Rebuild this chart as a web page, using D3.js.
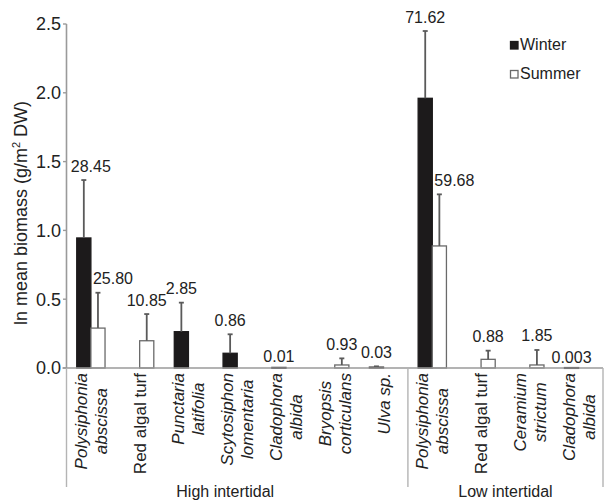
<!DOCTYPE html>
<html>
<head>
<meta charset="utf-8">
<script src="https://cdn.jsdelivr.net/npm/d3@7"></script>
<style>
  body { margin: 0; background: #fff; }
  svg { display: block; font-family: "Liberation Sans", Arial, Helvetica, sans-serif; }
</style>
</head>
<body>
<svg id="chart" width="605" height="503"></svg>
<script>
// ---- data ----
const categories = ["H1","H2","H3","H4","H5","H6","H7","L1","L2","L3","L4"];
const categoryLabels = [
  ["Polysiphonia","abscissa"],
  ["Red algal turf"],
  ["Punctaria","latifolia"],
  ["Scytosiphon","lomentaria"],
  ["Cladophora","albida"],
  ["Bryopsis","corticulans"],
  ["Ulva sp."],
  ["Polysiphonia","abscissa"],
  ["Red algal turf"],
  ["Ceramium","strictum"],
  ["Cladophora","albida"]
];
const italicLabel = [true,false,true,true,true,true,true,true,false,true,true];
const groups = ["High intertidal","Low intertidal"];
const groupOf = [0,0,0,0,0,0,0,1,1,1,1];
const seasons = ["Winter","Summer"];

// ln mean biomass (bar heights), null = no bar
const winterValues = [0.945, null, 0.264, 0.107, 0.004, null, 0.006, 1.96, null, null, 0.003];
const winterErrors = [0.421, null, 0.211, 0.138, 0, null, 0.006, 0.489, null, null, 0];
const winterLabels = ["28.45", null, "2.85", "0.86", "0.01", null, "0.03", "71.62", null, null, "0.003"];

const summerValues = [0.29, 0.198, null, null, null, 0.022, null, 0.887, 0.063, 0.022, null];
const summerErrors = [0.257, 0.194, null, null, null, 0.048, null, 0.375, 0.063, 0.109, null];
const summerLabels = ["25.80", "10.85", null, null, null, "0.93", null, "59.68", "0.88", "1.85", null];

const yTicks = [0, 0.5, 1.0, 1.5, 2.0, 2.5];

// ---- layout ----
const svg = d3.select("#chart");
const mLeft = 66.5, mRight = 603, mTop = 24, mBottom = 368;

const x = d3.scaleBand().domain(categories).range([mLeft, mRight]).padding(0);
const bw = x.bandwidth();
const barW = bw * 0.29;
const xs = d3.scaleBand().domain(seasons).range([bw/2 - barW, bw/2 + barW]).padding(0);
const y = d3.scaleLinear().domain([0, 2.5]).range([mBottom, mTop]);

const bars = [];
categories.forEach((c, i) => {
  if (winterValues[i] !== null) bars.push({c, i, s: "Winter", v: winterValues[i], e: winterErrors[i], lab: winterLabels[i]});
  if (summerValues[i] !== null) bars.push({c, i, s: "Summer", v: summerValues[i], e: summerErrors[i], lab: summerLabels[i]});
});

// bars
svg.append("g").selectAll("rect").data(bars).join("rect")
  .attr("x", d => x(d.c) + xs(d.s))
  .attr("y", d => y(d.v))
  .attr("width", xs.bandwidth())
  .attr("height", d => Math.max(0.8, y(0) - y(d.v)))
  .attr("fill", d => d.s === "Winter" ? "#1c1a1b" : "#ffffff")
  .attr("stroke", d => d.s === "Winter" ? "#1c1a1b" : "#6a6a6a")
  .attr("stroke-width", 1.3);

// error bars (upper only)
const eg = svg.append("g").attr("stroke", "#5a5a5a").attr("stroke-width", 1.8);
bars.filter(d => d.e > 0).forEach(d => {
  const cx = x(d.c) + xs(d.s) + xs.bandwidth()/2;
  eg.append("line").attr("x1", cx).attr("x2", cx).attr("y1", y(d.v)).attr("y2", y(d.v + d.e));
  eg.append("line").attr("x1", cx - 2.5).attr("x2", cx + 2.5).attr("y1", y(d.v + d.e)).attr("y2", y(d.v + d.e));
});

// value labels
svg.append("g").selectAll("text").data(bars).join("text")
  .attr("x", d => {
    const cx = x(d.c) + xs(d.s) + xs.bandwidth()/2;
    const hasWinter = winterValues[d.i] !== null;
    if (d.s === "Summer" && hasWinter) return cx + 15;
    if (d.s === "Winter" && summerValues[d.i] !== null && d.v < 1.5) return cx + 7;
    return cx;
  })
  .attr("y", d => y(d.v + d.e) - (d.e > 0 ? 8.5 : 5))
  .attr("text-anchor", "middle")
  .attr("font-size", 16)
  .attr("fill", "#222")
  .text(d => d.lab);

// axes lines
const axisColor = "#9a9a9a";
svg.append("line").attr("x1", mLeft).attr("x2", mLeft).attr("y1", mTop).attr("y2", mBottom)
  .attr("stroke", axisColor).attr("stroke-width", 1.6);
svg.append("line").attr("x1", mLeft - 4).attr("x2", mRight).attr("y1", mBottom).attr("y2", mBottom)
  .attr("stroke", axisColor).attr("stroke-width", 1.6);

// y ticks and labels
const yAxis = svg.append("g");
yTicks.forEach(t => {
  yAxis.append("line").attr("x1", mLeft - 3.5).attr("x2", mLeft).attr("y1", y(t)).attr("y2", y(t))
    .attr("stroke", axisColor).attr("stroke-width", 1.4);
  yAxis.append("text").attr("x", mLeft - 5.5).attr("y", y(t)).attr("dy", "0.36em")
    .attr("text-anchor", "end").attr("font-size", 18).attr("fill", "#222")
    .text(d3.format(".1f")(t));
});

// group separators
const sepColor = "#b4b4b4";
const groupEdges = [mLeft, x(categories[7]), mRight];
groupEdges.forEach(gx => {
  svg.append("line").attr("x1", gx).attr("x2", gx).attr("y1", mBottom).attr("y2", 487)
    .attr("stroke", sepColor).attr("stroke-width", 1.4);
});

// category labels (rotated, block centered, longest line ending near axis)
categories.forEach((c, i) => {
  const lines = categoryLabels[i];
  const cx = x(c) + bw/2;
  const g = svg.append("g");
  const nodes = lines.map((ln, k) => {
    const base = cx + 6 - (lines.length - 1) * 10 + k * 20;
    return g.append("text")
      .attr("font-size", 17)
      .attr("font-style", italicLabel[i] ? "italic" : "normal")
      .attr("fill", "#222")
      .attr("text-anchor", "middle")
      .attr("data-base", base)
      .text(ln);
  });
  const L = d3.max(nodes, n => n.node().getComputedTextLength());
  const cy = mBottom + 5 + L/2;
  nodes.forEach(n => {
    const base = +n.attr("data-base");
    n.attr("transform", `translate(${base},${cy}) rotate(-90)`);
  });
});

// group labels
groups.forEach((gname, gi) => {
  const idx = categories.filter((c, i) => groupOf[i] === gi);
  const x0 = x(idx[0]), x1 = x(idx[idx.length - 1]) + bw;
  svg.append("text").attr("x", (x0 + x1)/2 - (gi === 0 ? 12 : 0)).attr("y", 497)
    .attr("text-anchor", "middle").attr("font-size", 16).attr("fill", "#222")
    .text(gname);
});

// y axis title
svg.append("text")
  .attr("transform", "translate(27,213) rotate(-90)")
  .attr("text-anchor", "middle").attr("font-size", 18).attr("fill", "#222")
  .html('ln mean biomass (g/m<tspan font-size="11" dy="-7">2</tspan><tspan dy="7"> DW)</tspan>');

// legend
const lg = svg.append("g");
seasons.forEach((s, k) => {
  const ly = 41.5 + k * 29;
  lg.append("rect").attr("x", 510.5).attr("y", ly).attr("width", 7.5).attr("height", 7.5)
    .attr("fill", s === "Winter" ? "#1c1a1b" : "#fff")
    .attr("stroke", s === "Winter" ? "#1c1a1b" : "#6a6a6a").attr("stroke-width", 1.3);
  lg.append("text").attr("x", 520).attr("y", ly + 8).attr("font-size", 16).attr("fill", "#222").text(s);
});
</script>
</body>
</html>
